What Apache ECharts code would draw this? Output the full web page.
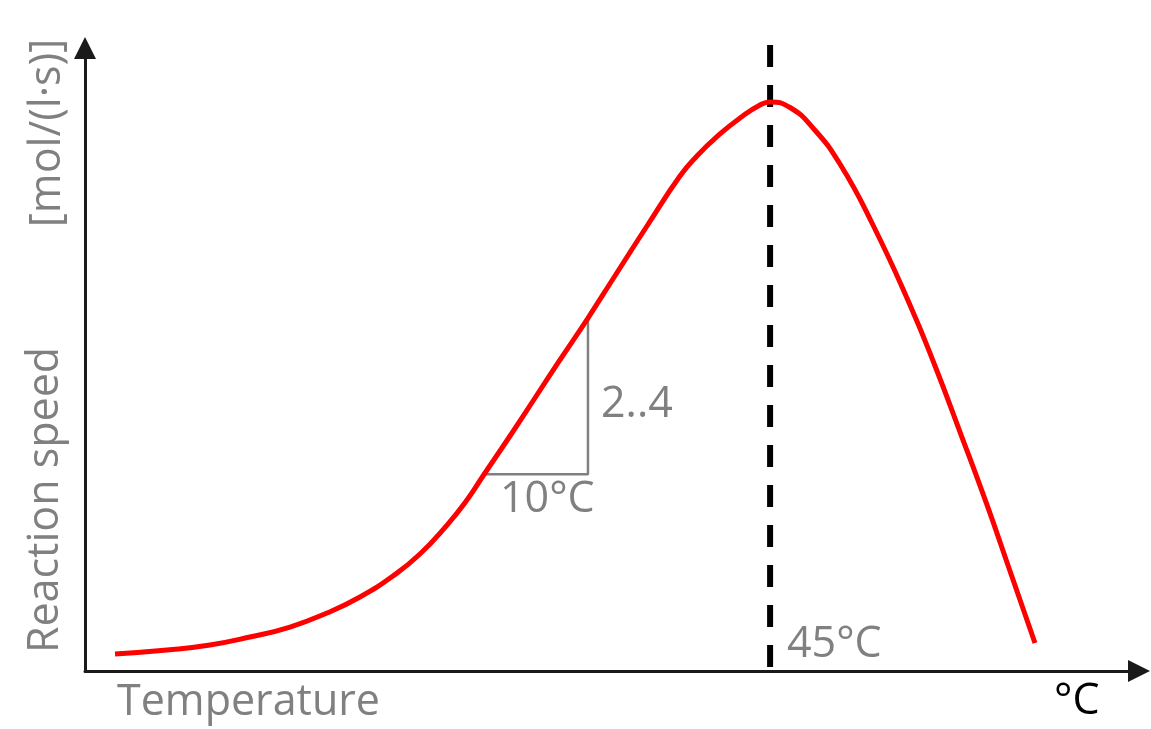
<!DOCTYPE html>
<html>
<head>
<meta charset="utf-8">
<title>Reaction speed vs temperature</title>
<script src="https://cdn.jsdelivr.net/npm/echarts@6/dist/echarts.min.js"></script>
<style>
html, body { margin: 0; padding: 0; background: #fff; }
#main { width: 1151px; height: 729px; }
</style>
</head>
<body>
<div id="main"></div>
<script>
// curve: temperature (°C) and reaction speed (relative units)
var tempC = [-17.15, -12.22, -8.14, -4.35, -0.55, 2.96, 6.09, 9.22, 11.78, 14.35, 16.24, 17.76,
             20.32, 22.69, 25.06, 27.72, 30.09, 33.32, 36.45, 38.06, 40.25, 42.14, 44.04, 45.0,
             46.89, 49.07, 51.63, 54.76, 58.27, 60.65, 63.02, 65.58, 67.76, 70.13];
var speed = [2.73, 3.37, 4.17, 5.46, 7.06, 9.31, 11.88, 15.25, 18.78, 23.43, 27.45, 31.30,
             37.72, 43.82, 49.92, 56.66, 62.92, 71.43, 79.45, 82.66, 86.20, 88.76, 90.85, 91.33,
             90.45, 87.16, 81.38, 71.59, 58.75, 48.96, 38.36, 26.65, 16.05, 4.49];
var peakTemp = 45;
var peakLine = [100.5, 0];
// slope triangle: 10°C step, speed factor 2..4
var triX = [17.76, 27.72, 27.72];
var triY = [31.6, 31.6, 56.8];

var zip = function(xs, ys){
	var out = [];
	for(var i=0; i<xs.length; i++){
		out.push([xs[i], ys[i]]);
	}
	return out;
};

var myChart = echarts.init(document.getElementById('main'));
var gray = '#808080';
var font = '"Open Sans", "DejaVu Sans", sans-serif';

var option = {
	animation: false,
	backgroundColor: '#fff',
	grid: {
		left: 85,
		right: 12,
		top: 48,
		bottom: 58
	},
	xAxis: {
		type: 'value',
		min: -20,
		max: 80,
		axisLine: {
			onZero: false,
			lineStyle: {color: '#1a1a1a', width: 3},
			symbol: ['none', 'triangle'],
			symbolSize: [22, 22]
		},
		axisTick: {show: false},
		axisLabel: {show: false},
		splitLine: {show: false}
	},
	yAxis: {
		type: 'value',
		min: 0,
		max: 100,
		axisLine: {
			show: true,
			onZero: false,
			lineStyle: {color: '#1a1a1a', width: 3},
			symbol: ['none', 'triangle'],
			symbolSize: [22, 22]
		},
		axisTick: {show: false},
		axisLabel: {show: false},
		splitLine: {show: false}
	},
	series: [
		{
			name: 'slope',
			type: 'line',
			data: zip(triX, triY),
			symbol: 'none',
			lineStyle: {color: gray, width: 2.5}
		},
		{
			name: 'peak',
			type: 'line',
			clip: false,
			data: zip([peakTemp, peakTemp], peakLine),
			symbol: 'none',
			lineStyle: {color: '#000', width: 6, type: [22, 18]}
		},
		{
			name: 'speed',
			type: 'line',
			data: zip(tempC, speed),
			smooth: 0.5,
			symbol: 'none',
			lineStyle: {color: '#ff0000', width: 5}
		}
	],
	graphic: [
		{type: 'text', x: 46, y: 500, rotation: Math.PI / 2,
			style: {text: 'Reaction speed', fill: gray, font: '43px ' + font, align: 'center', verticalAlign: 'middle'}},
		{type: 'text', x: 48, y: 133, rotation: Math.PI / 2,
			style: {text: '[mol/(l·s)]', fill: gray, font: '43px ' + font, align: 'center', verticalAlign: 'middle'}},
		{type: 'text', x: 117, y: 703,
			style: {text: 'Temperature', fill: gray, font: '43px ' + font, align: 'left', verticalAlign: 'middle'}},
		{type: 'text', x: 1054, y: 702,
			style: {text: '°C', fill: '#000', font: '43px ' + font, align: 'left', verticalAlign: 'middle'}},
		{type: 'text', x: 787, y: 645,
			style: {text: '45°C', fill: gray, font: '43px ' + font, align: 'left', verticalAlign: 'middle'}},
		{type: 'text', x: 601, y: 405,
			style: {text: '2..4', fill: gray, font: '43px ' + font, align: 'left', verticalAlign: 'middle'}},
		{type: 'text', x: 500, y: 500,
			style: {text: '10°C', fill: gray, font: '43px ' + font, align: 'left', verticalAlign: 'middle'}}
	]
};
myChart.setOption(option);
</script>
</body>
</html>
